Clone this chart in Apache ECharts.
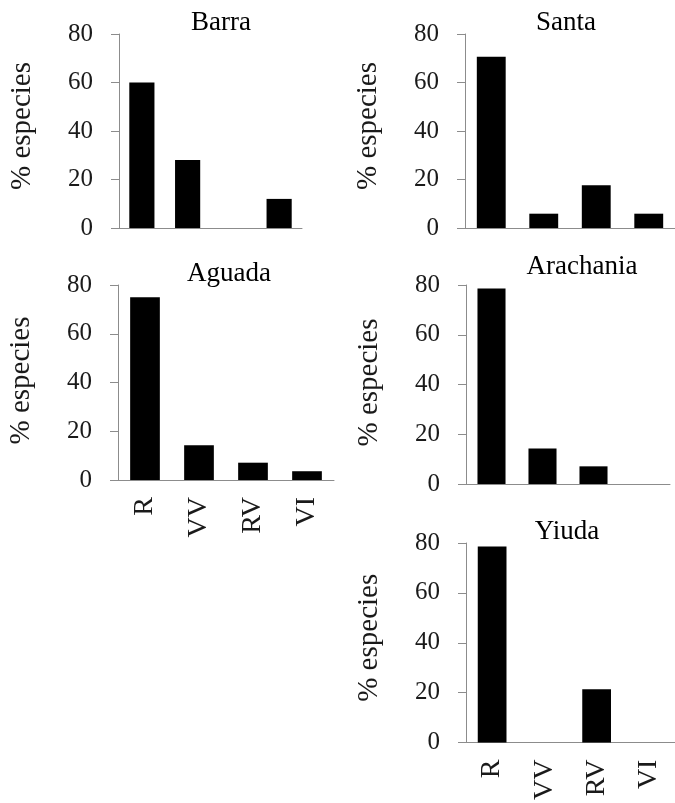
<!DOCTYPE html>
<html>
<head>
<meta charset="utf-8">
<script src="https://cdn.jsdelivr.net/npm/echarts@6/dist/echarts.min.js"></script>
<style>
  html, body { margin: 0; padding: 0; background: #fff; }
  #chart { width: 675px; height: 803px; }
</style>
</head>
<body>
<div id="chart"></div>
<script>
// Habit categories shared by every site
const categories = ['R', 'VV', 'RV', 'VI'];

// Percentage of species per category, one list per site
const barra = [60, 28, 0, 12];
const santa = [70.6, 5.9, 17.6, 5.9];
const aguada = [75, 14.3, 7.1, 3.6];
const arachania = [78.6, 14.3, 7.1, 0];
const yiuda = [78.6, 0, 21.4, 0];

const yTicks = [0, 20, 40, 60, 80];
const yName = '% especies';

const FONT = '"Liberation Serif", "Times New Roman", serif';
const AXIS_GRAY = '#8c8c8c';
const TEXT = '#1a1a1a';

// Panel layout: title, values, grid box, axis-name nudge, whether category labels are shown
const panels = [
  { title: 'Barra',     data: barra,     grid: { left: 119, top: 34,  width: 183, height: 194 }, titleX: 221, titleY: 9,   nameUp: 10, labels: false },
  { title: 'Santa',     data: santa,     grid: { left: 465, top: 34,  width: 220, height: 194 }, titleX: 566, titleY: 9,   nameUp: 10, labels: false },
  { title: 'Aguada',    data: aguada,    grid: { left: 118, top: 285, width: 216, height: 195 }, titleX: 229, titleY: 260, nameUp: 4,  labels: true },
  { title: 'Arachania', data: arachania, grid: { left: 466, top: 285, width: 204, height: 199 }, titleX: 582, titleY: 253, nameUp: 4,  labels: false },
  { title: 'Yiuda',     data: yiuda,     grid: { left: 466, top: 543, width: 219, height: 200 }, titleX: 567, titleY: 518, nameUp: 10, labels: true }
];

const option = {
  animation: false,
  backgroundColor: '#fff',
  title: panels.map(p => ({
    text: p.title,
    left: p.titleX,
    top: p.titleY,
    textAlign: 'center',
    padding: 0,
    textStyle: { fontFamily: FONT, fontSize: 27, fontWeight: 'normal', color: '#000' }
  })),
  grid: panels.map(p => Object.assign({ containLabel: false }, p.grid)),
  xAxis: panels.map((p, i) => ({
    type: 'category',
    gridIndex: i,
    data: categories,
    axisLine: { show: true, lineStyle: { color: AXIS_GRAY, width: 1 } },
    axisTick: { show: false },
    axisLabel: {
      show: p.labels,
      rotate: 90,
      margin: 17,
      interval: 0,
      fontFamily: FONT,
      fontSize: 28,
      color: TEXT
    },
    splitLine: { show: false }
  })),
  yAxis: panels.map((p, i) => ({
    type: 'value',
    gridIndex: i,
    min: yTicks[0],
    max: yTicks[yTicks.length - 1],
    interval: yTicks[1] - yTicks[0],
    name: yName,
    nameLocation: 'middle',
    nameGap: 82,
    nameTextStyle: { fontFamily: FONT, fontSize: 29, color: TEXT, padding: [0, 0, 0, p.nameUp] },
    axisLine: { show: true, lineStyle: { color: AXIS_GRAY, width: 1 } },
    axisTick: { show: true, inside: false, length: 8, lineStyle: { color: AXIS_GRAY } },
    axisLabel: { margin: 26, fontFamily: FONT, fontSize: 25, color: TEXT },
    splitLine: { show: false }
  })),
  series: panels.map((p, i) => ({
    type: 'bar',
    name: p.title,
    xAxisIndex: i,
    yAxisIndex: i,
    data: p.data,
    barWidth: '55%',
    itemStyle: { color: '#000' },
    silent: true
  }))
};

const chart = echarts.init(document.getElementById('chart'), null, { renderer: 'canvas' });
chart.setOption(option);
</script>
</body>
</html>
